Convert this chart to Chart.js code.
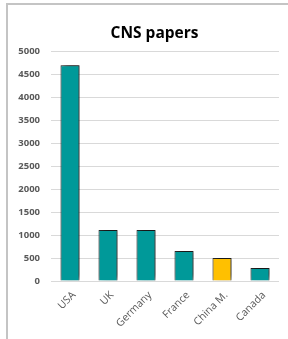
<!DOCTYPE html>
<html>
<head>
<meta charset="utf-8">
<script src="https://cdn.jsdelivr.net/npm/chart.js@4"></script>
<style>
  html, body { margin: 0; padding: 0; background: #fff; overflow: hidden; }
  #frame {
    position: absolute; left: 6px; top: 3px; width: 282px; height: 336px;
    border-left: 2px solid #c4c4c4; border-top: 2px solid #c4c4c4;
  }
  #wrap { position: absolute; left: 0; top: 0; width: 288px; height: 339px; }
</style>
</head>
<body>
<div id="frame"></div>
<div id="wrap"><canvas id="chart" width="288" height="339"></canvas></div>
<script>
// CNS papers by country
const countries = ['USA', 'UK', 'Germany', 'France', 'China M.', 'Canada'];
const papers = [4700, 1110, 1110, 655, 500, 284];
const barColors = ['#009999', '#009999', '#009999', '#009999', '#ffc000', '#009999'];

// soft drop shadow behind the bars, like the office chart
const barShadow = {
    id: 'barShadow',
    beforeDatasetDraw(chart) {
        const ctx = chart.ctx;
        ctx.save();
        ctx.shadowColor = 'rgba(0, 0, 0, 0.65)';
        ctx.shadowBlur = 5;
        ctx.shadowOffsetX = 2;
        ctx.shadowOffsetY = -2;
    },
    afterDatasetDraw(chart) {
        chart.ctx.restore();
    }
};

// title sits a bit right of the canvas centre in the original
const titleShift = {
    id: 'titleShift',
    afterLayout(chart) {
        const t = chart.titleBlock;
        if (t) { t.left += 15; t.right += 15; }
    }
};

const ctx = document.getElementById('chart').getContext('2d');
new Chart(ctx, {
    type: 'bar',
    data: {
        labels: countries,
        datasets: [{
            data: papers,
            backgroundColor: barColors,
            borderColor: '#2b2b2b',
            borderWidth: 1,
            borderSkipped: 'bottom',
            categoryPercentage: 0.5,
            barPercentage: 1,
        }]
    },
    plugins: [barShadow, titleShift],
    options: {
        responsive: false,
        animation: false,
        layout: { padding: { left: 0, right: 9, top: 0, bottom: 0 } },
        plugins: {
            legend: { display: false },
            tooltip: { enabled: false },
            title: {
                display: true,
                text: 'CNS papers',
                color: '#000',
                font: { family: 'Open Sans', size: 15.5, weight: 'bold', lineHeight: 1.2 },
                padding: { top: 24, bottom: 9 },
            }
        },
        scales: {
            x: {
                grid: { display: false },
                border: { display: false },
                ticks: {
                    color: '#595959',
                    font: { family: 'Open Sans', size: 10.5 },
                    minRotation: 45,
                    maxRotation: 45,
                    padding: 0,
                    labelOffset: 4,
                },
                afterFit(scale) { scale.height = 58; },
            },
            y: {
                min: 0,
                max: 5000,
                grid: { color: '#d9d9d9', drawTicks: false },
                border: { display: false },
                ticks: {
                    stepSize: 500,
                    color: '#595959',
                    padding: 11,
                    font: { family: 'Open Sans', size: 9.5, weight: 'bold' },
                    callback: (value) => String(value),
                },
                afterFit(scale) { scale.width = 51; },
            }
        }
    }
});
</script>
</body>
</html>
